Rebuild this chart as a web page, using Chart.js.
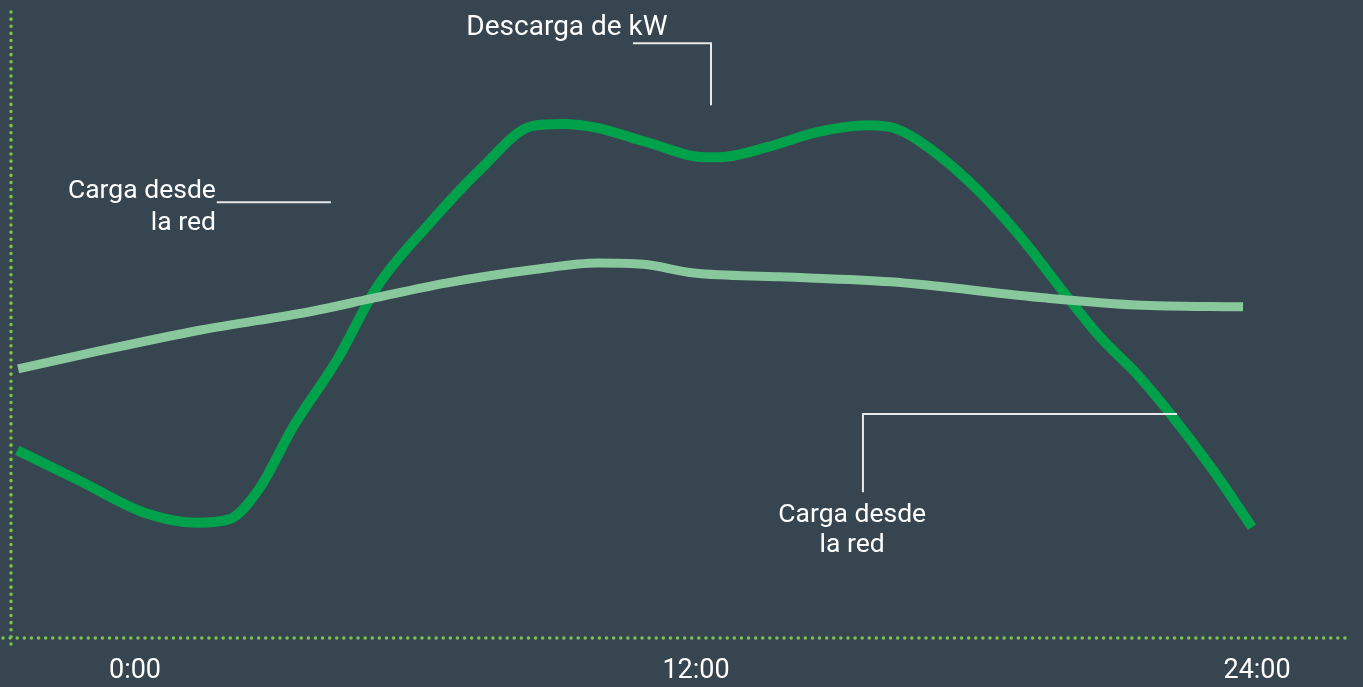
<!DOCTYPE html>
<html>
<head>
<meta charset="utf-8">
<script src="https://cdn.jsdelivr.net/npm/chart.js@4/dist/chart.umd.min.js"></script>
<style>
  html, body { margin: 0; padding: 0; background: #36454f; }
  #wrap { width: 1363px; height: 687px; position: relative; }
</style>
</head>
<body>
<div id="wrap"><canvas id="loadChart"></canvas></div>
<script>
// hour of day (x) and kW (y, relative scale 0-100)
const dischargeHours = [-2.52, -1.18, 0.17, 1.33, 2.03, 2.67, 3.38, 4.32, 5.18, 6.31, 7.38, 8.51, 9.16, 9.88, 10.95, 12.19, 12.51, 13.52, 14.59, 15.66, 16.21, 16.73, 17.80, 18.87, 19.94, 20.64, 21.13, 21.35, 22.20, 23.06, 23.89];
const dischargeKw    = [30.0, 25.1, 20.1, 18.4, 19.0, 24.0, 33.7, 44.4, 56.1, 66.3, 74.8, 81.8, 82.1, 81.5, 79.2, 76.8, 76.8, 78.4, 80.8, 81.9, 81.5, 79.6, 73.2, 64.7, 54.5, 48.1, 44.4, 42.8, 35.3, 26.8, 17.7];

const gridHours = [-2.50, -0.98, 1.41, 3.79, 5.05, 6.65, 8.58, 9.90, 10.87, 11.96, 13.80, 16.15, 19.49, 21.41, 23.70];
const gridKw    = [43.0, 45.5, 49.2, 52.2, 54.2, 56.7, 58.9, 59.9, 59.7, 58.3, 57.7, 56.9, 54.3, 53.2, 52.9];

const tickHours  = [0, 12, 24];
const tickLabels = ['0:00', '12:00', '24:00'];

// callout labels, anchored in data units
const callouts = [
    { lines: ['Descarga de kW'], size: 28, x: 9.24, y: [96.3], align: 'center',
      path: [[10.65, 95.0], [12.32, 95.0], [12.32, 85.1]] },
    { lines: ['Carga desde', 'la red'], size: 26.5, x: 1.73, y: [70.3, 65.2], align: 'right',
      path: [[1.75, 69.6], [4.19, 69.6]] },
    { lines: ['Carga desde', 'la red'], size: 26.5, x: 15.34, y: [18.5, 13.7], align: 'center',
      path: [[15.57, 23.3], [15.57, 35.8], [22.29, 35.8]] }
];

const toPoints = (xs, ys) => xs.map((x, i) => ({ x: x, y: ys[i] }));

// dotted green axes along the chart area edges
const dottedAxes = {
    id: 'dottedAxes',
    beforeDatasetsDraw(chart) {
        const { ctx, chartArea: a } = chart;
        ctx.save();
        ctx.strokeStyle = '#7cc250';
        ctx.lineWidth = 3.5;
        ctx.lineCap = 'round';
        ctx.setLineDash([0.1, 7]);
        ctx.beginPath();
        ctx.moveTo(a.left, a.top);
        ctx.lineTo(a.left, a.bottom + 7);
        ctx.moveTo(a.left - 8, a.bottom);
        ctx.lineTo(a.right, a.bottom);
        ctx.stroke();
        ctx.restore();
    }
};

const calloutPlugin = {
    id: 'callouts',
    afterDatasetsDraw(chart) {
        const ctx = chart.ctx;
        const sx = chart.scales.x, sy = chart.scales.y;
        ctx.save();
        ctx.strokeStyle = '#e6e9eb';
        ctx.lineWidth = 2;
        ctx.fillStyle = '#ffffff';
        ctx.textBaseline = 'alphabetic';
        callouts.forEach(c => {
            ctx.beginPath();
            c.path.forEach((p, i) => {
                const px = sx.getPixelForValue(p[0]), py = sy.getPixelForValue(p[1]);
                if (i === 0) ctx.moveTo(px, py); else ctx.lineTo(px, py);
            });
            ctx.stroke();
            ctx.font = c.size + 'px Roboto';
            ctx.textAlign = c.align;
            c.lines.forEach((t, i) => {
                ctx.fillText(t, sx.getPixelForValue(c.x), sy.getPixelForValue(c.y[i]));
            });
        });
        ctx.restore();
    }
};

function build() {
    Chart.defaults.font.family = 'Roboto';
    new Chart(document.getElementById('loadChart').getContext('2d'), {
        type: 'line',
        data: {
            datasets: [{
                label: 'Carga desde la red',
                data: toPoints(gridHours, gridKw),
                borderColor: '#88c89c',
                borderWidth: 9,
                cubicInterpolationMode: 'monotone',
                pointRadius: 0,
                clip: false
            }, {
                label: 'Descarga de kW',
                data: toPoints(dischargeHours, dischargeKw),
                borderColor: '#00a14b',
                borderWidth: 10,
                cubicInterpolationMode: 'monotone',
                pointRadius: 0,
                clip: false
            }]
        },
        options: {
            responsive: true,
            maintainAspectRatio: false,
            animation: false,
            layout: { padding: { left: 11, right: 11, top: 12, bottom: 0 } },
            plugins: {
                legend: { display: false },
                tooltip: { enabled: false }
            },
            scales: {
                x: {
                    type: 'linear',
                    min: -2.652,
                    max: 26.03,
                    afterBuildTicks: scale => { scale.ticks = tickHours.map(v => ({ value: v })); },
                    afterFit: scale => { scale.height = 49; },
                    grid: { display: false, drawTicks: false },
                    border: { display: false },
                    ticks: {
                        autoSkip: false,
                        maxRotation: 0,
                        color: '#ffffff',
                        padding: 17,
                        font: { size: 27 },
                        callback: value => tickLabels[tickHours.indexOf(value)]
                    }
                },
                y: {
                    min: 0,
                    max: 100,
                    afterFit: scale => { scale.width = 0; },
                    grid: { display: false, drawTicks: false },
                    border: { display: false },
                    ticks: { display: false }
                }
            }
        },
        plugins: [dottedAxes, calloutPlugin]
    });
}

if (document.fonts && document.fonts.load) {
    document.fonts.load('28px Roboto').then(build, build);
} else {
    build();
}
</script>
</body>
</html>
